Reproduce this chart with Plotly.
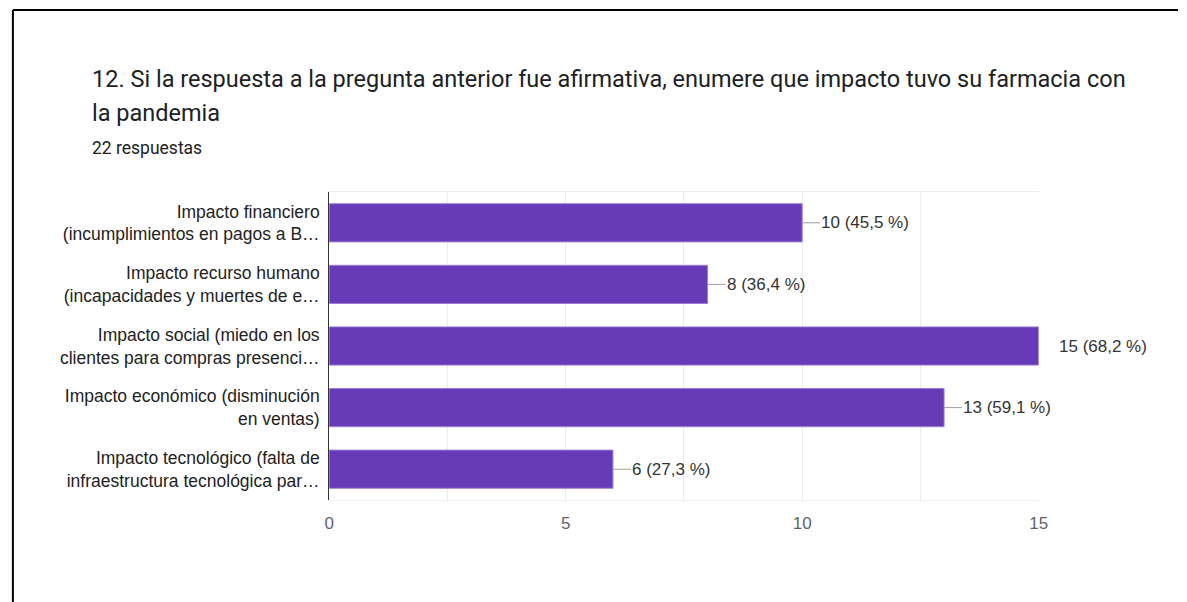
import plotly.graph_objects as go

categories = [
    "Impacto financiero<br>(incumplimientos en pagos a B…",
    "Impacto recurso humano<br>(incapacidades y muertes de e…",
    "Impacto social (miedo en los<br>clientes para compras presenci…",
    "Impacto económico (disminución<br>en ventas)",
    "Impacto tecnológico (falta de<br>infraestructura tecnológica par…",
]
counts = [10, 8, 15, 13, 6]
percent_labels = ["45,5 %", "36,4 %", "68,2 %", "59,1 %", "27,3 %"]
x_ticks = [0, 5, 10, 15]

title_line1 = "12. Si la respuesta a la pregunta anterior fue afirmativa, enumere que impacto tuvo su farmacia con"
title_line2 = "la pandemia"
subtitle = "22 respuestas"

W, H = 1187, 602
x0, x1 = 328, 1046
y_top, y_bot = 192, 500
CHART_FONT = "Liberation Sans, Arial"

fig = go.Figure()
fig.add_trace(go.Bar(
    y=categories, x=counts, orientation="h",
    marker=dict(color="#673ab7", line=dict(color="#9c7fd6", width=1)),
    width=0.62, hoverinfo="skip",
))

for cat, v, p in zip(categories, counts, percent_labels):
    is_max = v == max(counts)
    fig.add_annotation(
        x=v, y=cat, xref="x", yref="y",
        text=f"{v} ({p})", showarrow=not is_max,
        arrowhead=0, arrowwidth=1, arrowcolor="#9e9e9e",
        ax=18, ay=0, xanchor="left", xshift=19 if is_max else 0,
        font=dict(family=CHART_FONT, size=17, color="#333333"),
        borderpad=0,
    )

fig.update_layout(
    width=W, height=H,
    margin=dict(l=0, r=0, t=0, b=0),
    paper_bgcolor="white", plot_bgcolor="white",
    showlegend=False,
    bargap=0.38,
    xaxis=dict(
        domain=[x0 / W, x1 / W], range=[0, 15],
        tickvals=x_ticks, showgrid=True, gridcolor="#ebebeb", gridwidth=1,
        minor=dict(dtick=2.5, showgrid=True, gridcolor="#ebebeb", gridwidth=1),
        showline=True, linecolor="#ebebeb", linewidth=1, mirror=True,
        zeroline=False, ticks="", ticklabelstandoff=8,
        tickfont=dict(family=CHART_FONT, size=17, color="#5f6368"),
        fixedrange=True,
    ),
    yaxis=dict(
        domain=[(H - y_bot) / H, (H - y_top) / H],
        autorange="reversed", showgrid=False,
        showline=True, linecolor="#333333", linewidth=1,
        ticks="", ticklabelstandoff=5,
        tickfont=dict(family=CHART_FONT, size=17.5, color="#222222"),
        fixedrange=True,
    ),
)

fig.add_annotation(x=86 / W, y=1 - 79 / H, xref="paper", yref="paper",
                   text=title_line1, showarrow=False, xanchor="left", yanchor="middle",
                   font=dict(family="Roboto", size=23.5, color="#202124"))
fig.add_annotation(x=86 / W, y=1 - 113 / H, xref="paper", yref="paper",
                   text=title_line2, showarrow=False, xanchor="left", yanchor="middle",
                   font=dict(family="Roboto", size=23.5, color="#202124"))
fig.add_annotation(x=86 / W, y=1 - 148 / H, xref="paper", yref="paper",
                   text=subtitle, showarrow=False, xanchor="left", yanchor="middle",
                   font=dict(family="Roboto", size=17.5, color="#202124"))

# black frame (top and left edges of the cropped screenshot)
fig.add_shape(type="line", xref="paper", yref="paper", x0=8 / W, x1=1, y0=1 - 10 / H, y1=1 - 10 / H,
              line=dict(color="black", width=2))
fig.add_shape(type="line", xref="paper", yref="paper", x0=8 / W, x1=8 / W, y0=0, y1=1 - 10 / H,
              line=dict(color="black", width=2))

fig.write_html(
    "out.html",
    config={"displayModeBar": False},
    post_script="document.body.style.margin='0';document.body.style.overflow='hidden';",
)
